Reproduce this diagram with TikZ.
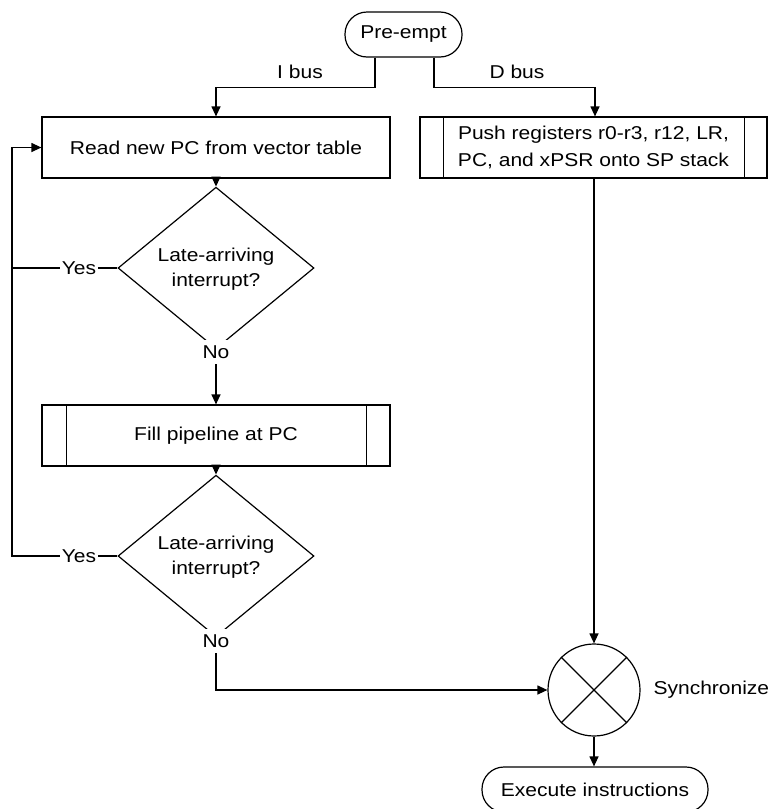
\documentclass[tikz,border=0pt]{standalone}
\usepackage{fontspec}
\setmainfont{Liberation Sans}[FakeStretch=1.13]
\usetikzlibrary{shapes.geometric,arrows.meta}
\begin{document}
\begin{tikzpicture}[x=1pt,y=-1pt,
  every node/.style={font=\fontsize{18.6}{25}\selectfont},
  line/.style={line width=1.2pt, draw=black},
  arr/.style={line, -{Triangle[length=10pt,width=9pt]}},
  term/.style={draw, line width=1.2pt, rounded corners=22pt, minimum height=45pt, inner sep=0pt},
  proc/.style={draw, line width=1.2pt, minimum height=61pt, inner sep=0pt, align=center},
  dec/.style={draw, diamond, line width=1.2pt, minimum width=196pt, minimum height=120pt, inner sep=0pt, align=center},
  lbl/.style={fill=white, inner xsep=1.5pt, inner ysep=6pt},
]
\useasboundingbox (0,0) rectangle (769,809);
\clip (0,0) rectangle (769,809);

\node[term, minimum width=117pt] (pre) at (403.5,34.5) {Pre-empt};
\node[proc, minimum width=348pt] (read) at (216,147.5) {Read new PC from vector table};
\node[proc, minimum width=347pt, font=\fontsize{18.6}{27}\selectfont] (push) at (593.5,147.5) {Push registers r0-r3, r12, LR,\\PC, and xPSR onto SP stack};
\node[dec] (d1) at (216,268) {\rule{0pt}{16pt}Late-arriving\\interrupt?};
\node[proc, minimum width=348pt] (fill) at (216,435.5) {Fill pipeline at PC};
\node[dec] (d2) at (216,556) {\rule{0pt}{16pt}Late-arriving\\interrupt?};
\node[draw, circle, line width=1.2pt, minimum size=92pt, inner sep=0pt] (sync) at (594,690) {};
\node[anchor=west] (synclbl) at (650,690) {Synchronize};
\node[term, minimum width=226pt] (exec) at (595,789.5) {Execute instructions};

% subroutine bars
\draw[line] ([xshift=24pt]push.north west) -- ([xshift=24pt]push.south west);
\draw[line] ([xshift=-23pt]push.north east) -- ([xshift=-23pt]push.south east);
\draw[line] ([xshift=25pt]fill.north west) -- ([xshift=25pt]fill.south west);
\draw[line] ([xshift=-24pt]fill.north east) -- ([xshift=-24pt]fill.south east);

% cross in circle
\draw[line] (sync.45) -- (sync.225) (sync.135) -- (sync.315);

% connectors
\coordinate (lx) at (12,0);
\draw[arr] ([xshift=-28.5pt]pre.south) -- ++(0,30) -| (read.north);
\draw[arr] ([xshift=30.5pt]pre.south) -- ++(0,30) -| ([xshift=1.5pt]push.north);
\draw[arr] (read) -- (d1);
\draw[line] (d1.west) -- (d1.west -| lx);
\draw[arr] (d2.west) -- (d2.west -| lx) |- (read.west);
\draw[arr] (d1) -- (fill);
\draw[arr] (fill) -- (d2);
\draw[arr] (d2.south) |- (sync.west);
\draw[arr] (push.south -| sync) -- (sync.north);
\draw[arr] (sync.south) -- (sync.south |- exec.north);

% labels
\node (ibus) at (300,72) {I bus};
\node (dbus) at (517,72) {D bus};
\node[lbl] (yes1) at (79,268) {Yes};
\node[lbl] (yes2) at (79,556) {Yes};
\node[lbl] (no1) at (216,352) {No};
\node[lbl] (no2) at (216,641) {No};
\end{tikzpicture}
\end{document}
